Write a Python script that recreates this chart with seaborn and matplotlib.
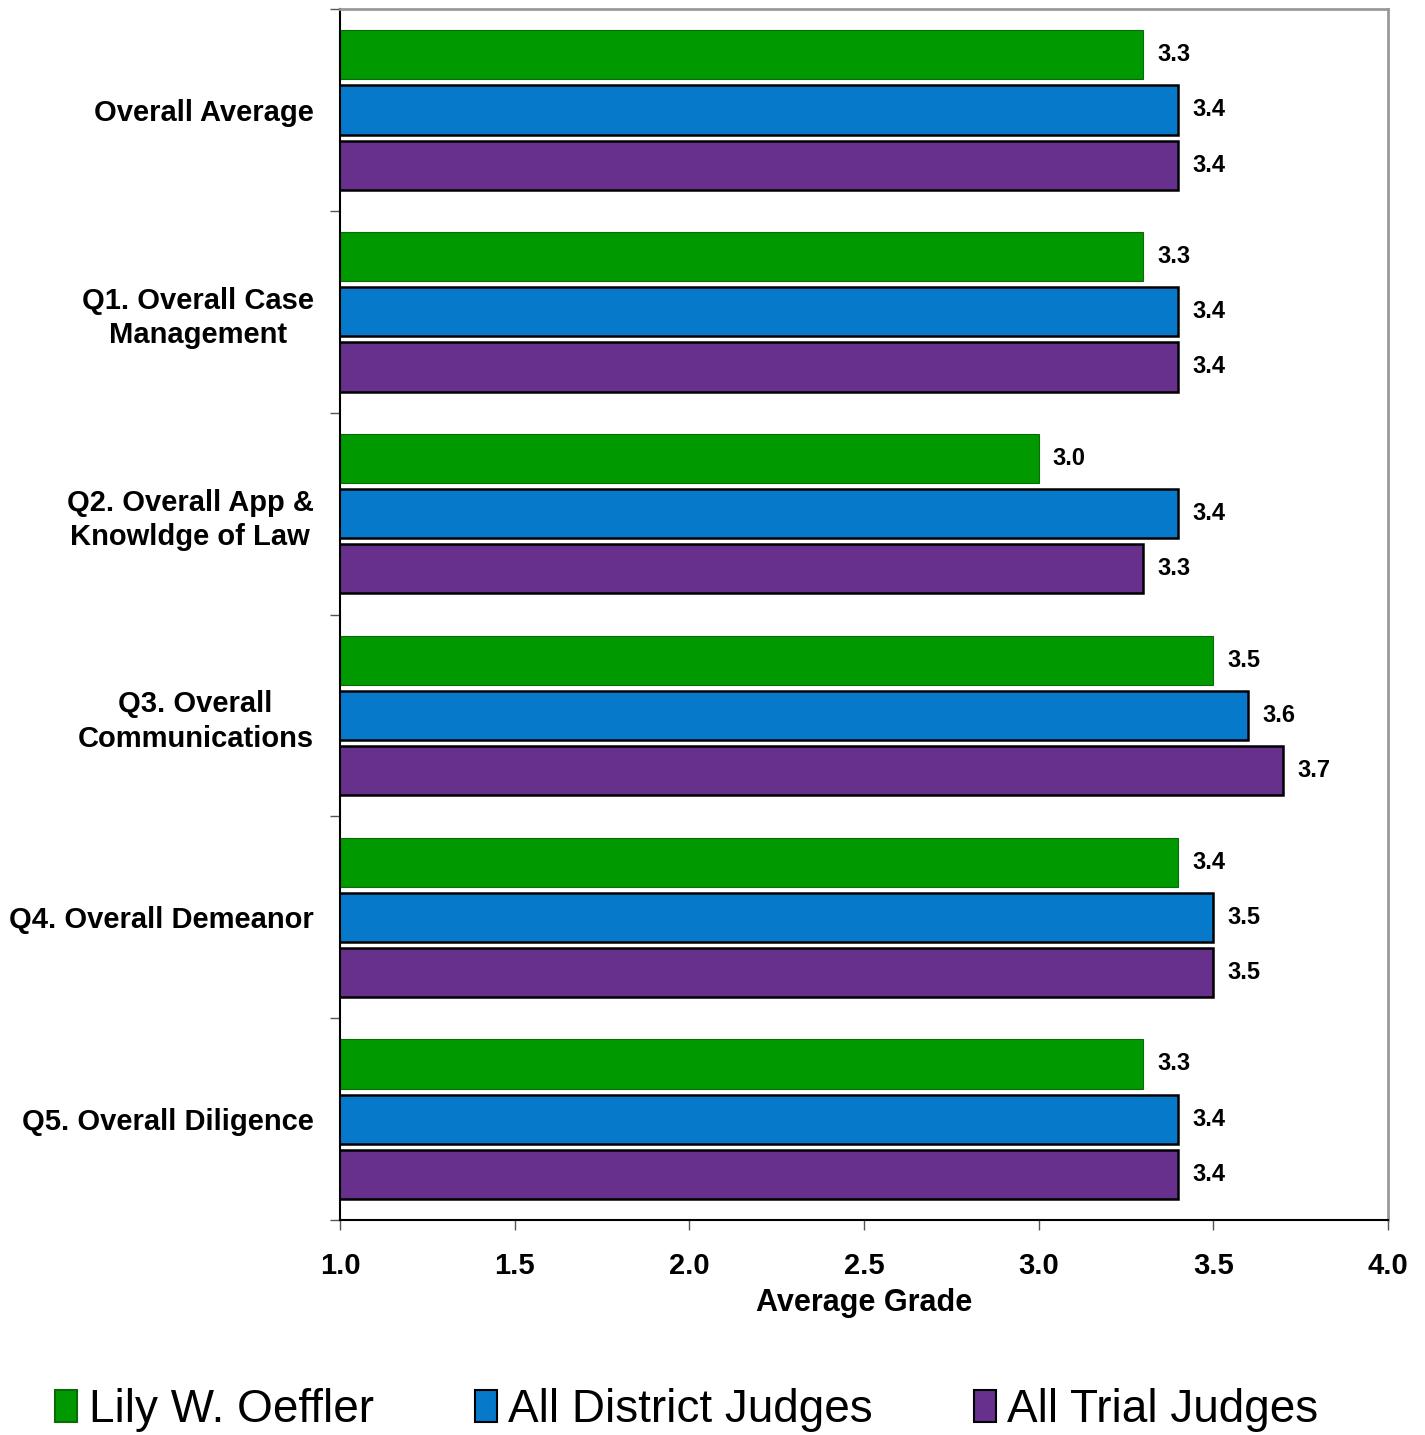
import pandas as pd
import numpy as np
import seaborn as sns
import matplotlib.pyplot as plt
from matplotlib.patches import Patch

# chart values
categories = ['Overall Average', 'Q1. Overall Case\nManagement', 'Q2. Overall App &\nKnowldge of Law',
              'Q3. Overall\nCommunications', 'Q4. Overall Demeanor', 'Q5. Overall Diligence']
series = ['Lily W. Oeffler', 'All District Judges', 'All Trial Judges']
lily = [3.3, 3.3, 3.0, 3.5, 3.4, 3.3]
district = [3.4, 3.4, 3.4, 3.6, 3.5, 3.4]
trial = [3.4, 3.4, 3.3, 3.7, 3.5, 3.4]
colors = ['#009900', '#0779cb', '#66308c']
edges = ['#0b6b0b', 'black', 'black']
x_ticks = [1.0, 1.5, 2.0, 2.5, 3.0, 3.5, 4.0]

df = pd.DataFrame({
    'category': categories * 3,
    'grade': lily + district + trial,
    'group': [s for s in series for _ in categories],
})

sns.set_style('white')
plt.rcParams['font.family'] = ['Liberation Sans', 'DejaVu Sans']
plt.rcParams['text.color'] = 'black'
plt.rcParams['xtick.color'] = 'black'
plt.rcParams['ytick.color'] = 'black'
plt.rcParams['axes.labelcolor'] = 'black'

fig = plt.figure(figsize=(14.25, 14.35), dpi=100)
ax = fig.add_axes([0.2386, 0.1498, 0.7354, 0.8439])

sns.barplot(data=df, x='grade', y='category', hue='group', orient='h', saturation=1,
            palette=colors, width=0.82, gap=0.11, ax=ax, legend=False)

for cont, ec in zip(ax.containers, edges):
    for bar in cont:
        bar.set_edgecolor(ec)
        bar.set_linewidth(1.8 if ec == 'black' else 0.8)
    labels = ax.bar_label(cont, fmt='%.1f', padding=10, fontsize=17, fontweight='bold')
    for t in labels:
        t.set_va('center')

ax.set_xlim(1, 4)
ax.set_ylim(5.5, -0.5)
ax.set_xticks(x_ticks)
ax.set_xticklabels([f'{t:.1f}' for t in x_ticks], fontsize=21, fontweight='bold')
ax.tick_params(axis='x', length=7, width=1, color='#555555', pad=16, direction='out', bottom=True)

# boundary ticks on y, labels in the middle of each group
ax.set_yticks(np.arange(-0.5, 6, 1))
ax.set_yticklabels([])
ax.set_yticks(range(len(categories)), minor=True)
ax.set_yticklabels(categories, minor=True, fontsize=21, fontweight='bold',
                   multialignment='center', linespacing=1.3)
ax.tick_params(axis='y', which='major', length=7, width=1, color='#555555', direction='out', left=True)
ax.tick_params(axis='y', which='minor', length=0, pad=19)

ax.set_xlabel('Average Grade', fontsize=22, fontweight='bold', labelpad=6)
ax.set_ylabel('')

ax.spines['left'].set_color('black')
ax.spines['bottom'].set_color('black')
ax.spines['left'].set_linewidth(1.5)
ax.spines['bottom'].set_linewidth(1.5)
for s in ['top', 'right']:
    ax.spines[s].set_color('#999999')
    ax.spines[s].set_linewidth(2)

handles = [Patch(facecolor=c, edgecolor=e, linewidth=1.5) for c, e in zip(colors, edges)]
fig.legend(handles, series, loc='center', bbox_to_anchor=(0.482, 0.0174), ncol=3, frameon=False,
           fontsize=33, handlelength=0.48, handleheight=0.7, handletextpad=0.25, columnspacing=2.2)

fig.savefig('out.png', dpi=100)
